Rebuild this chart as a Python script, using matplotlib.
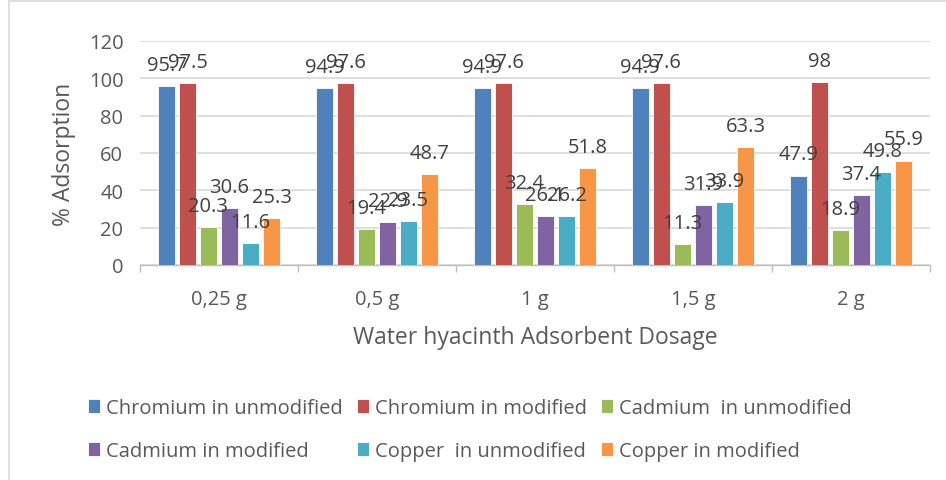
import matplotlib
matplotlib.use("Agg")
import matplotlib.pyplot as plt
import numpy as np
from matplotlib.patches import Rectangle

plt.rcParams['font.family'] = ['Open Sans', 'DejaVu Sans']

categories = ["0,25 g", "0,5 g", "1 g", "1,5 g", "2 g"]
series_names = ["Chromium in unmodified", "Chromium in modified", "Cadmium  in unmodified",
                "Cadmium in modified", "Copper  in unmodified", "Copper in modified"]
cr_unmod = [95.7, 94.9, 94.9, 94.9, 47.9]
cr_mod = [97.5, 97.6, 97.6, 97.6, 98]
cd_unmod = [20.3, 19.4, 32.4, 11.3, 18.9]
cd_mod = [30.6, 22.9, 26.1, 31.9, 37.4]
cu_unmod = [11.6, 23.5, 26.2, 33.9, 49.8]
cu_mod = [25.3, 48.7, 51.8, 63.3, 55.9]
series = [cr_unmod, cr_mod, cd_unmod, cd_mod, cu_unmod, cu_mod]
colors = ["#4F81BD", "#C0504D", "#9BBB59", "#8064A2", "#4BACC6", "#F79646"]
yticks = [0, 20, 40, 60, 80, 100, 120]

txt = "#595959"
fig = plt.figure(figsize=(9.46, 4.81), dpi=100)
fig.patches.append(Rectangle((0.009, -0.01), 1.2, 1.006, transform=fig.transFigure,
                             fill=False, edgecolor="#D9D9D9", linewidth=1.2))
ax = fig.add_axes([0.148, 0.447, 0.835, 0.466])

x = np.arange(len(categories))
step = 0.133
width = 0.108
for i, (vals, c, name) in enumerate(zip(series, colors, series_names)):
    pos = x + (i - 2.5) * step
    ax.bar(pos, vals, width=width, color=c, label=name, zorder=3,
           edgecolor="white", linewidth=0.6)
    for p, v in zip(pos, vals):
        ax.annotate(f"{v:g}", (p, v), xytext=(0, 8), textcoords="offset points",
                    ha="center", va="bottom", fontsize=14.5, color="#404040", zorder=4)

ax.set_xlim(-0.5, 4.5)
ax.set_ylim(0, 120)
ax.set_yticks(yticks)
ax.set_xticks(x)
ax.set_xticklabels(categories)
ax.set_xticks(np.arange(-0.5, 5, 1), minor=True)
ax.tick_params(axis="x", which="major", length=0, pad=17, labelsize=14.5, colors=txt)
ax.tick_params(axis="x", which="minor", length=5, color="#BFBFBF", width=1)
ax.tick_params(axis="y", length=0, pad=12, labelsize=14.5, colors=txt)
ax.grid(axis="y", color="#D9D9D9", linewidth=1.2, zorder=0)
for s in ["top", "right", "left"]:
    ax.spines[s].set_visible(False)
ax.spines["bottom"].set_color("#BFBFBF")
ax.spines["bottom"].set_linewidth(1)
ax.set_ylabel("% Adsorption", fontsize=16.5, color=txt, labelpad=9)
ax.set_xlabel("Water hyacinth Adsorbent Dosage", fontsize=16.5, color=txt, labelpad=12)

handles, labels = ax.get_legend_handles_labels()
order = [0, 3, 1, 4, 2, 5]
fig.legend([handles[k] for k in order], [labels[k] for k in order],
           loc="center", bbox_to_anchor=(0.497, 0.105), ncol=3,
           frameon=False, fontsize=14.5, handlelength=0.6, handleheight=0.7,
           handletextpad=0.3, columnspacing=0.7, labelspacing=1.15, labelcolor=txt)

fig.savefig("out.png", dpi=100)
